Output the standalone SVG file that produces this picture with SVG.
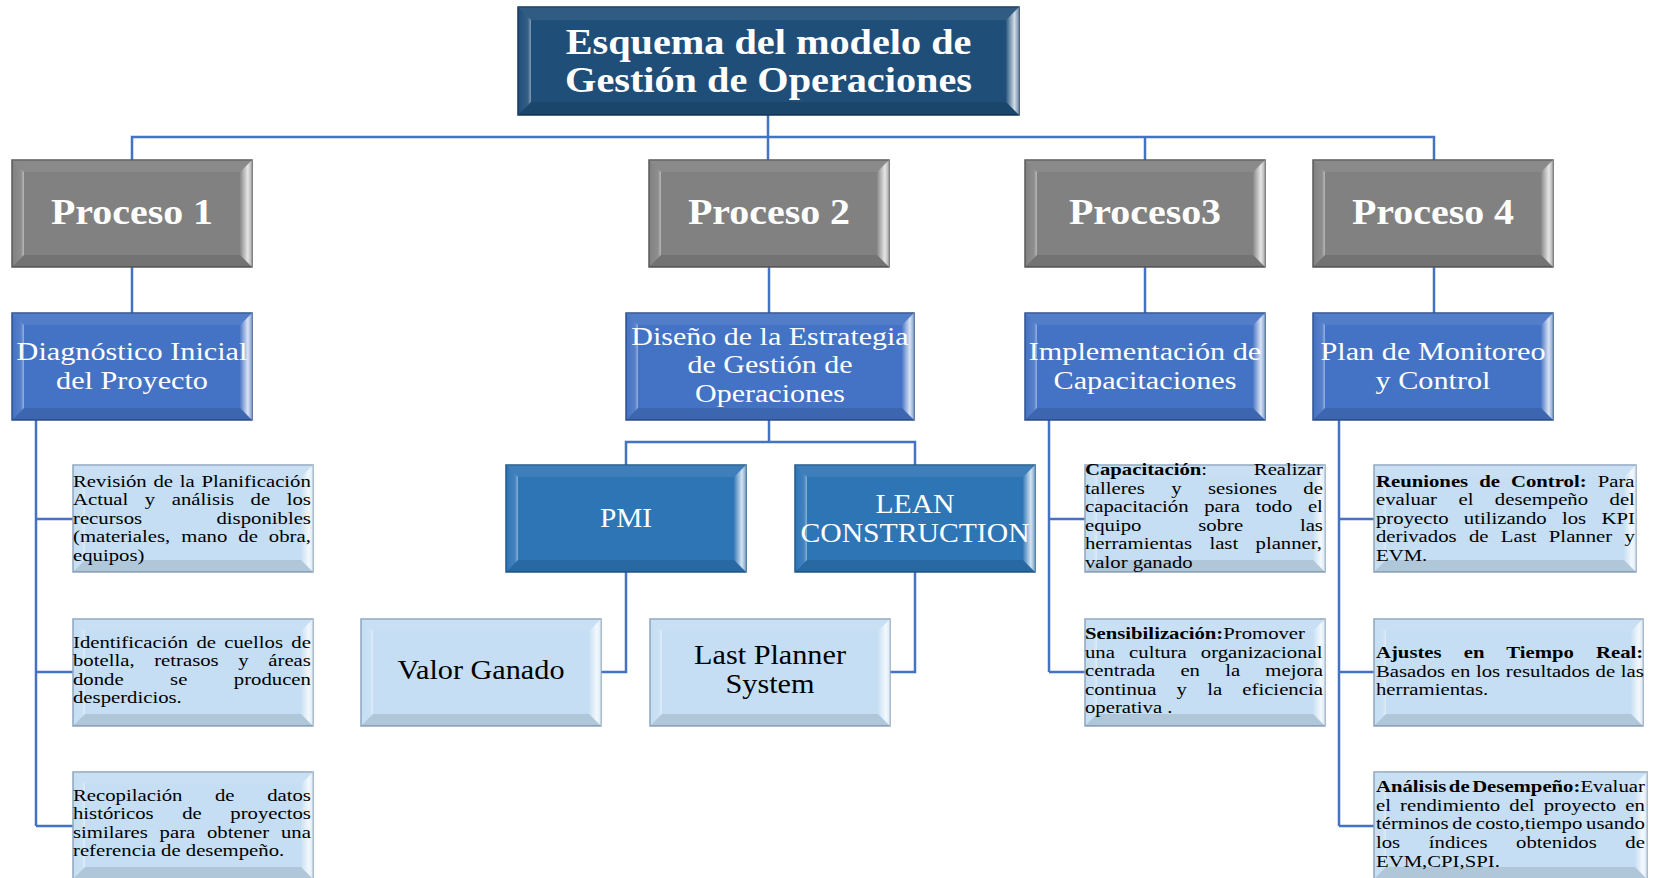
<svg xmlns="http://www.w3.org/2000/svg" xmlns:xlink="http://www.w3.org/1999/xlink" width="1657" height="878" viewBox="0 0 1657 878">
<style>
.conn{stroke:#4472C4;stroke-width:2.5;fill:none}
.serif{font-family:"Liberation Serif","Times New Roman",serif}
.t-title{font-size:35px;font-weight:bold;fill:#fff}
.t-proc{font-size:35px;font-weight:bold;fill:#fff}
.t-sub{font-size:25px;fill:#fff}
.t-mid{font-size:28px;fill:#fff}
.t-big{font-size:28px;fill:#000}
.t-leaf{font-size:17px;fill:#000}
.b-title{fill:#1F4E79;stroke:#17375E;stroke-width:1.5}
.b-proc{fill:#818181;stroke:#5A5A5A;stroke-width:1.5}
.b-sub{fill:#4472C4;stroke:#2F528F;stroke-width:1.5}
.b-mid{fill:#2E75B6;stroke:#215A8C;stroke-width:1.5}
.b-leaf{fill:#C5DEF3;stroke:#8FA6BD;stroke-width:1.5}
.bvL{fill:url(#gL)}
.bvT{fill:#fff;fill-opacity:0.08}
.bvR{fill:url(#gR)}
.bvB{fill:#000;fill-opacity:0.1}
</style>
<defs>
<linearGradient id="gR" x1="0" y1="0" x2="1" y2="0">
<stop offset="0" stop-color="#fff" stop-opacity="0.05"/>
<stop offset="0.65" stop-color="#fff" stop-opacity="0.8"/>
<stop offset="1" stop-color="#fff" stop-opacity="0.35"/>
</linearGradient>
<linearGradient id="gL" x1="0" y1="0" x2="1" y2="0">
<stop offset="0" stop-color="#fff" stop-opacity="0"/>
<stop offset="0.75" stop-color="#fff" stop-opacity="0.1"/>
<stop offset="1" stop-color="#fff" stop-opacity="0.45"/>
</linearGradient>
<g id="bv">
<polygon class="bvL" points="0,0 12,12 12,95 0,107"/>
<polygon class="bvT" points="0,0 240,0 228,12 12,12"/>
<polygon class="bvR" points="240,0 240,107 228,95 228,12"/>
<polygon class="bvB" points="0,107 12,95 228,95 240,107"/>
</g>
</defs>
<rect width="1657" height="878" fill="#fff"/>

<g id="connectors">
<path class="conn" d="M768,115 V137 M132,161 V137 H1434 V161 M768,137 V161 M1145,137 V161"/>
<path class="conn" d="M132,267 V313 M769,267 V313 M1145,267 V313 M1434,267 V313"/>
<path class="conn" d="M769,420 V442 M626,465 V442 H915 V465"/>
<path class="conn" d="M626,572 V672 H600 M915,572 V672 H889"/>
<path class="conn" d="M36,420 V826 M36,519 H73 M36,672 H73 M36,826 H73"/>
<path class="conn" d="M1049,420 V672 M1049,519 H1085 M1049,672 H1085"/>
<path class="conn" d="M1339,420 V826 M1339,519 H1374 M1339,672 H1374 M1339,826 H1374"/>
</g>

<g id="title">
<rect class="b-title" x="518" y="7" width="501" height="108"/>
<polygon class="bvL" points="518,7 531,20 531,102 518,115"/>
<polygon class="bvT" points="518,7 1019,7 1006,20 531,20"/>
<polygon class="bvR" points="1019,7 1019,115 1006,102 1006,20"/>
<polygon class="bvB" points="518,115 531,102 1006,102 1019,115"/>
<text class="serif t-title" text-anchor="middle" transform="translate(768.5 0) scale(1.15 1)"><tspan x="0" y="54">Esquema del modelo de</tspan><tspan x="0" y="92">Gestión de Operaciones</tspan></text>
</g>

<g id="proceso1">
<rect class="b-proc" x="12" y="160" width="240" height="107"/>
<use xlink:href="#bv" href="#bv" transform="translate(12 160)"/>
<text class="serif t-proc" text-anchor="middle" transform="translate(132 0) scale(1.14 1)"><tspan x="0" y="224">Proceso 1</tspan></text>
</g>
<g id="proceso2">
<rect class="b-proc" x="649" y="160" width="240" height="107"/>
<use xlink:href="#bv" href="#bv" transform="translate(649 160)"/>
<text class="serif t-proc" text-anchor="middle" transform="translate(769 0) scale(1.14 1)"><tspan x="0" y="224">Proceso 2</tspan></text>
</g>
<g id="proceso3">
<rect class="b-proc" x="1025" y="160" width="240" height="107"/>
<use xlink:href="#bv" href="#bv" transform="translate(1025 160)"/>
<text class="serif t-proc" text-anchor="middle" transform="translate(1145 0) scale(1.14 1)"><tspan x="0" y="224">Proceso3</tspan></text>
</g>
<g id="proceso4">
<rect class="b-proc" x="1313" y="160" width="240" height="107"/>
<use xlink:href="#bv" href="#bv" transform="translate(1313 160)"/>
<text class="serif t-proc" text-anchor="middle" transform="translate(1433 0) scale(1.14 1)"><tspan x="0" y="224">Proceso 4</tspan></text>
</g>

<g id="diagnostico">
<rect class="b-sub" x="12" y="313" width="240" height="107"/>
<use xlink:href="#bv" href="#bv" transform="translate(12 313)"/>
<text class="serif t-sub" text-anchor="middle" transform="translate(132 0) scale(1.21 1)"><tspan x="0" y="360.5">Diagnóstico Inicial</tspan><tspan x="0" y="389">del Proyecto</tspan></text>
</g>
<g id="diseno">
<rect class="b-sub" x="626" y="313" width="288" height="107"/>
<polygon class="bvL" points="626,313 638,325 638,408 626,420"/>
<polygon class="bvT" points="626,313 914,313 902,325 638,325"/>
<polygon class="bvR" points="914,313 914,420 902,408 902,325"/>
<polygon class="bvB" points="626,420 638,408 902,408 914,420"/>
<text class="serif t-sub" text-anchor="middle" transform="translate(770 0) scale(1.2 1)"><tspan x="0" y="345">Diseño de la Estrategia</tspan><tspan x="0" y="373.5">de Gestión de</tspan><tspan x="0" y="402">Operaciones</tspan></text>
</g>
<g id="implementacion">
<rect class="b-sub" x="1025" y="313" width="240" height="107"/>
<use xlink:href="#bv" href="#bv" transform="translate(1025 313)"/>
<text class="serif t-sub" text-anchor="middle" transform="translate(1145 0) scale(1.21 1)"><tspan x="0" y="360.5">Implementación de</tspan><tspan x="0" y="389">Capacitaciones</tspan></text>
</g>
<g id="plan">
<rect class="b-sub" x="1313" y="313" width="240" height="107"/>
<use xlink:href="#bv" href="#bv" transform="translate(1313 313)"/>
<text class="serif t-sub" text-anchor="middle" transform="translate(1433 0) scale(1.21 1)"><tspan x="0" y="360.5">Plan de Monitoreo</tspan><tspan x="0" y="389">y Control</tspan></text>
</g>

<g id="pmi">
<rect class="b-mid" x="506" y="465" width="240" height="107"/>
<use xlink:href="#bv" href="#bv" transform="translate(506 465)"/>
<text class="serif t-mid" text-anchor="middle" transform="translate(626 0) scale(1.05 1)"><tspan x="0" y="527.5">PMI</tspan></text>
</g>
<g id="lean">
<rect class="b-mid" x="795" y="465" width="240" height="107"/>
<use xlink:href="#bv" href="#bv" transform="translate(795 465)"/>
<text class="serif t-mid" text-anchor="middle" transform="translate(915 0) scale(1.06 1)"><tspan x="0" y="513">LEAN</tspan><tspan x="0" y="542">CONSTRUCTION</tspan></text>
</g>
<g id="valor">
<rect class="b-leaf" x="361" y="619" width="240" height="107"/>
<use xlink:href="#bv" href="#bv" transform="translate(361 619)"/>
<text class="serif t-big" text-anchor="middle" transform="translate(481 0) scale(1.08 1)"><tspan x="0" y="679.5">Valor Ganado</tspan></text>
</g>
<g id="lastplanner">
<rect class="b-leaf" x="650" y="619" width="240" height="107"/>
<use xlink:href="#bv" href="#bv" transform="translate(650 619)"/>
<text class="serif t-big" text-anchor="middle" transform="translate(770 0) scale(1.08 1)"><tspan x="0" y="664">Last Planner</tspan><tspan x="0" y="693">System</tspan></text>
</g>

<g id="revision">
<rect class="b-leaf" x="73" y="465" width="240" height="107"/>
<use xlink:href="#bv" href="#bv" transform="translate(73 465)"/>
<text class="serif t-leaf" transform="translate(73 0) scale(1.22 1)"><tspan x="0" y="487" style="word-spacing:1.28px">Revisión de la Planificación</tspan><tspan x="0" y="505.5" style="word-spacing:9.34px">Actual y análisis de los</tspan><tspan x="0" y="524" style="word-spacing:56.73px">recursos disponibles</tspan><tspan x="0" y="542.5" style="word-spacing:4.76px">(materiales, mano de obra,</tspan><tspan x="0" y="561">equipos)</tspan></text>
</g>
<g id="identificacion">
<rect class="b-leaf" x="73" y="619" width="240" height="107"/>
<use xlink:href="#bv" href="#bv" transform="translate(73 619)"/>
<text class="serif t-leaf" transform="translate(73 0) scale(1.22 1)"><tspan x="0" y="648" style="word-spacing:2.55px">Identificación de cuellos de</tspan><tspan x="0" y="666.5" style="word-spacing:11.84px">botella, retrasos y áreas</tspan><tspan x="0" y="685" style="word-spacing:33.81px">donde se producen</tspan><tspan x="0" y="703.5">desperdicios.</tspan></text>
</g>
<g id="recopilacion">
<rect class="b-leaf" x="73" y="772" width="240" height="107"/>
<use xlink:href="#bv" href="#bv" transform="translate(73 772)"/>
<text class="serif t-leaf" transform="translate(73 0) scale(1.22 1)"><tspan x="0" y="801" style="word-spacing:22.47px">Recopilación de datos</tspan><tspan x="0" y="819.5" style="word-spacing:19.16px">históricos de proyectos</tspan><tspan x="0" y="838" style="word-spacing:5.38px">similares para obtener una</tspan><tspan x="0" y="856.5">referencia de desempeño.</tspan></text>
</g>

<g id="capacitacion">
<rect class="b-leaf" x="1085" y="465" width="240" height="107"/>
<use xlink:href="#bv" href="#bv" transform="translate(1085 465)"/>
<text class="serif t-leaf" transform="translate(1085 0) scale(1.22 1)"><tspan x="0" y="475" style="word-spacing:34.08px"><tspan font-weight="bold">Capacitación</tspan>: Realizar</tspan><tspan x="0" y="493.6" style="word-spacing:17.34px">talleres y sesiones de</tspan><tspan x="0" y="512.2" style="word-spacing:8.54px">capacitación para todo el</tspan><tspan x="0" y="530.8" style="word-spacing:42.3px">equipo sobre las</tspan><tspan x="0" y="549.4" style="word-spacing:9.97px">herramientas last planner,</tspan><tspan x="0" y="568">valor ganado</tspan></text>
</g>
<g id="sensibilizacion">
<rect class="b-leaf" x="1085" y="619" width="240" height="107"/>
<use xlink:href="#bv" href="#bv" transform="translate(1085 619)"/>
<text class="serif t-leaf" transform="translate(1085 0) scale(1.22 1)"><tspan x="0" y="639"><tspan font-weight="bold">Sensibilización:</tspan>Promover</tspan><tspan x="0" y="657.6" style="word-spacing:7.37px">una cultura organizacional</tspan><tspan x="0" y="676.2" style="word-spacing:16.41px">centrada en la mejora</tspan><tspan x="0" y="694.8" style="word-spacing:12.31px">continua y la eficiencia</tspan><tspan x="0" y="713.4">operativa .</tspan></text>
</g>

<g id="reuniones">
<rect class="b-leaf" x="1374" y="465" width="262" height="107"/>
<polygon class="bvL" points="1374,465 1386,477 1386,560 1374,572"/>
<polygon class="bvT" points="1374,465 1636,465 1624,477 1386,477"/>
<polygon class="bvR" points="1636,465 1636,572 1624,560 1624,477"/>
<polygon class="bvB" points="1374,572 1386,560 1624,560 1636,572"/>
<text class="serif t-leaf" transform="translate(1376 0) scale(1.22 1)"><tspan x="0" y="487" style="word-spacing:4.82px"><tspan font-weight="bold">Reuniones de Control:</tspan> Para</tspan><tspan x="0" y="505.5" style="word-spacing:13.33px">evaluar el desempeño del</tspan><tspan x="0" y="524" style="word-spacing:8.28px">proyecto utilizando los KPI</tspan><tspan x="0" y="542.5" style="word-spacing:5.86px">derivados de Last Planner y</tspan><tspan x="0" y="561">EVM.</tspan></text>
</g>
<g id="ajustes">
<rect class="b-leaf" x="1374" y="619" width="269" height="107"/>
<polygon class="bvL" points="1374,619 1386,631 1386,714 1374,726"/>
<polygon class="bvT" points="1374,619 1643,619 1631,631 1386,631"/>
<polygon class="bvR" points="1643,619 1643,726 1631,714 1631,631"/>
<polygon class="bvB" points="1374,726 1386,714 1631,714 1643,726"/>
<text class="serif t-leaf" transform="translate(1376 0) scale(1.22 1)"><tspan x="0" y="658.5" style="word-spacing:13.89px" font-weight="bold">Ajustes en Tiempo Real:</tspan><tspan x="0" y="677" style="word-spacing:0.4px">Basados en los resultados de las</tspan><tspan x="0" y="695.5">herramientas.</tspan></text>
</g>
<g id="analisis">
<rect class="b-leaf" x="1374" y="772" width="273" height="107"/>
<polygon class="bvL" points="1374,772 1386,784 1386,867 1374,879"/>
<polygon class="bvT" points="1374,772 1647,772 1635,784 1386,784"/>
<polygon class="bvR" points="1647,772 1647,879 1635,867 1635,784"/>
<polygon class="bvB" points="1374,879 1386,867 1635,867 1647,879"/>
<text class="serif t-leaf" transform="translate(1376 0) scale(1.22 1)"><tspan x="0" y="792" style="word-spacing:-2.14px"><tspan font-weight="bold">Análisis de Desempeño:</tspan>Evaluar</tspan><tspan x="0" y="810.7" style="word-spacing:3.19px">el rendimiento del proyecto en</tspan><tspan x="0" y="829.4" style="word-spacing:-1.11px">términos de costo,tiempo usando</tspan><tspan x="0" y="848.1" style="word-spacing:19.19px">los índices obtenidos de</tspan><tspan x="0" y="866.8">EVM,CPI,SPI.</tspan></text>
</g>
</svg>
